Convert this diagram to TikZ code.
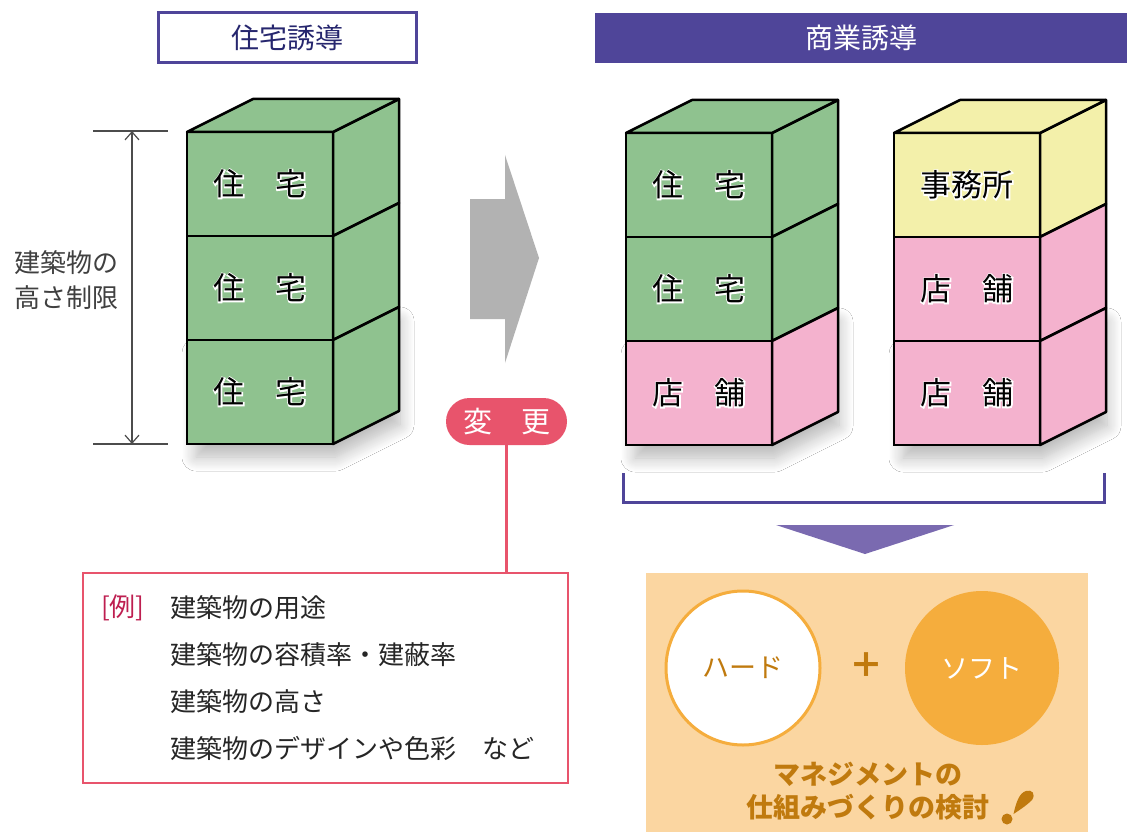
\documentclass[tikz,border=0pt]{standalone}
\usepackage{fontspec}
\setmainfont{Noto Sans CJK JP}
\newfontfamily\halofont{Noto Sans CJK JP}[FakeBold=8]
\usepackage{xcolor}
\definecolor{yudoblue}{RGB}{79,69,153}
\definecolor{yudonavy}{RGB}{38,38,110}
\definecolor{jgreen}{RGB}{143,194,143}
\definecolor{jpink}{RGB}{244,178,206}
\definecolor{jyellow}{RGB}{243,240,170}
\definecolor{henkored}{RGB}{232,84,108}
\definecolor{reicrimson}{RGB}{190,30,80}
\definecolor{tripurple}{RGB}{122,106,176}
\definecolor{panelorange}{RGB}{251,214,161}
\definecolor{softorange}{RGB}{245,173,61}
\definecolor{mgmtbrown}{RGB}{192,122,14}
\usepackage{tikz}
\usetikzlibrary{positioning, calc, arrows.meta, shadows.blur, backgrounds}
\newcommand{\jpsize}[2]{\fontsize{#1}{#2}\selectfont}
\newcommand{\halo}[1]{\ooalign{\hfil{\halofont\color{white}#1}\hfil\cr\hfil#1\hfil\cr}}

\begin{document}
\begin{tikzpicture}[x=1pt, y=-1pt,
  floor/.style={rectangle, draw=black, line width=2.5pt, minimum width=146pt, minimum height=104pt, inner sep=0pt, outer sep=0pt, font=\jpsize{31}{31}},
  face/.style={draw=black, line width=2.5pt, line join=round},
  hdr/.style={rectangle, minimum height=50pt, inner sep=0pt, font=\jpsize{28}{28}},
  dim/.style={{Straight Barb[length=8pt,width=14pt]}-{Straight Barb[length=8pt,width=14pt]}, line width=1.2pt, draw=black!70},
  pill/.style={rectangle, rounded corners=23.5pt, fill=henkored, text=white, minimum width=121pt, minimum height=47pt, inner sep=0pt, font=\jpsize{29}{29}},
  extext/.style={anchor=west, inner sep=0pt, font=\jpsize{26}{26}, text=black!85},
  ball/.style={circle, minimum size=154pt, inner sep=0pt, font=\jpsize{27}{27}},
  shade/.style={blur shadow={shadow xshift=3pt, shadow yshift=-13pt, shadow opacity=28, shadow blur radius=14pt, shadow blur steps=14}}
]
\begin{scope}[on background layer]
  \fill[white] (0,0) rectangle (1127,832);
\end{scope}
\useasboundingbox (0,0) rectangle (1127,832);

\node[hdr, draw=yudoblue, line width=3pt, minimum width=258pt, text=yudonavy] (hdrL) at (287.5,38) {住宅誘導};
\node[hdr, fill=yudoblue, minimum width=532pt, text=white] (hdrR) at (861,38) {商業誘導};

% housing-only building
\node[floor, fill=jgreen] (a3) at (260,392) {\halo{住　宅}};
\node[floor, fill=jgreen, above=0pt of a3] (a2) {\halo{住　宅}};
\node[floor, fill=jgreen, above=0pt of a2] (a1) {\halo{住　宅}};

% mixed buildings
\node[floor, fill=jpink] (b3) at (699,393) {\halo{店　舗}};
\node[floor, fill=jgreen, above=0pt of b3] (b2) {\halo{住　宅}};
\node[floor, fill=jgreen, above=0pt of b2] (b1) {\halo{住　宅}};
\node[floor, fill=jpink] (c3) at (967,393) {\halo{店　舗}};
\node[floor, fill=jpink, above=0pt of c3] (c2) {\halo{店　舗}};
\node[floor, fill=jyellow, above=0pt of c2] (c1) {\halo{事務所}};

\foreach \f/\c in {a1/jgreen, a2/jgreen, a3/jgreen, b1/jgreen, b2/jgreen, b3/jpink, c1/jyellow, c2/jpink, c3/jpink} {
  \draw[face, fill=\c] (\f.north east) -- ++(66,-33) -- ($(\f.south east)+(66,-33)$) -- (\f.south east) -- cycle;
}
\foreach \f/\c in {a1/jgreen, b1/jgreen, c1/jyellow} {
  \draw[face, fill=\c] (\f.north west) -- ++(66,-33) -- ($(\f.north east)+(66,-33)$) -- (\f.north east) -- cycle;
}
\begin{scope}[on background layer]
  \foreach \f in {a3, b3, c3} {
    \path[shade] ($(\f.north west)+(6,0)$) -- ($(\f.south west)+(6,0)$) -- (\f.south east) -- ($(\f.south east)+(64,-32)$) -- ($(\f.north east)+(64,-32)$) -- cycle;
  }
\end{scope}

% height limit
\coordinate (dimT) at (132,131);
\coordinate (dimB) at (132,444);
\draw[dim] (dimT) -- (dimB);
\draw[line width=1.2pt, black!70] ($(dimT)+(-39,0)$) -- ++(75,0);
\draw[line width=1.2pt, black!70] ($(dimB)+(-39,0)$) -- ++(75,0);
\node[font=\jpsize{26}{35}, align=left, text=black!75, inner sep=0pt] (limit) at (66,280) {建築物の\\高さ制限};

\fill[black!30] (470,199) -- (505,199) -- (505,155) -- (539,258) -- (505,363) -- (505,319) -- (470,319) -- cycle;

% change
\node[pill] (chg) at (506.5,421.5) {変　更};
\node[rectangle, draw=henkored, line width=2.5pt, minimum width=485pt, minimum height=210pt] (exbox) at (325.5,678) {};
\draw[henkored, line width=2.5pt] (chg.south) -- (chg.south |- exbox.north);
\node[extext, text=reicrimson] (rei) at (101,608) {[例]};
\node[extext] (ex1) at (170,608) {建築物の用途};
\node[extext] (ex2) at (170,655) {建築物の容積率・建蔽率};
\node[extext] (ex3) at (170,702) {建築物の高さ};
\node[extext] (ex4) at (170,748) {建築物のデザインや色彩　など};

\draw[yudoblue, line width=3pt] (623,473) -- (623,502) -- (1104,502) -- (1104,473);
\fill[tripurple] (776,525) -- (954,525) -- (865,554) -- cycle;

% management
\fill[panelorange] (646,573) rectangle (1088,832);
\node[ball, draw=softorange, line width=3pt, fill=white, text=mgmtbrown] (hard) at (743,668) {ハード};
\node[ball, fill=softorange, text=white] (soft) at (982,668) {ソフト};
\node[font=\jpsize{34}{34}\bfseries, text=mgmtbrown, inner sep=0pt] (plus) at (866,665) {＋};
\node[font=\jpsize{27}{33}\bfseries, text=mgmtbrown, align=center, inner sep=0pt] (mgmt) at (868,791) {マネジメントの\\仕組みづくりの検討};
\fill[mgmtbrown] (1013.5,814) .. controls (1016,803) and (1019,793) .. (1026,791) .. controls (1032,789) and (1036,794) .. (1032,800) .. controls (1026,806) and (1018,811) .. (1013.5,814) -- cycle;
\fill[mgmtbrown] (1007,819) circle (5.5);
\end{tikzpicture}
\end{document}
